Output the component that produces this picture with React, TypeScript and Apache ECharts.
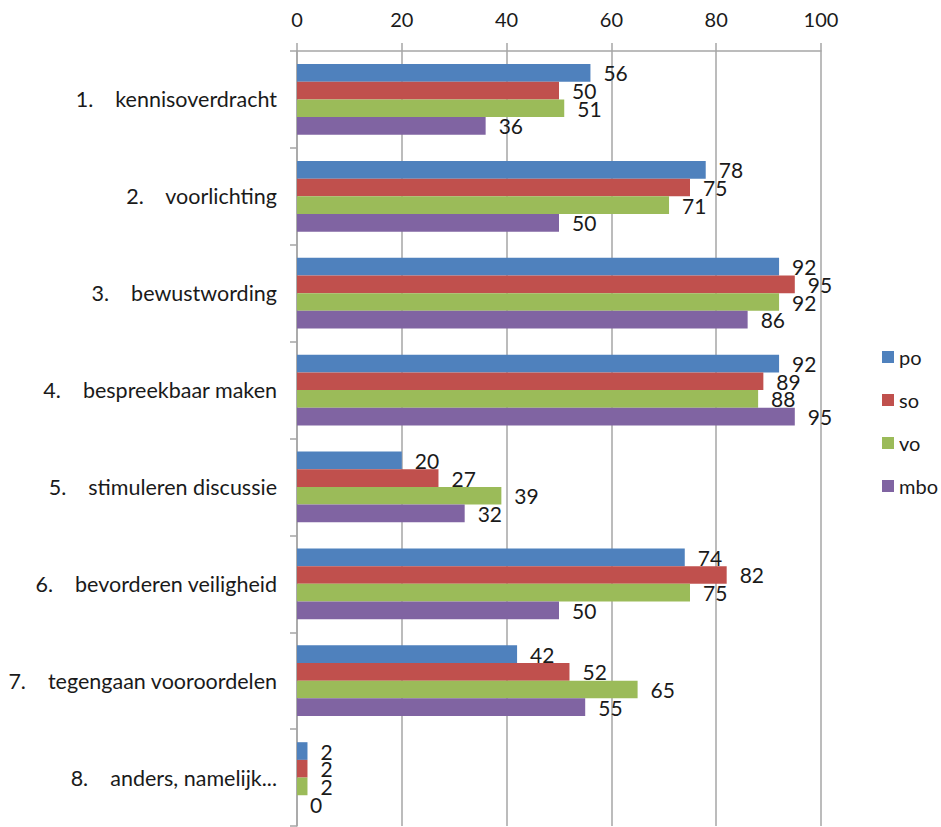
import React, { useEffect, useRef } from "react";
import * as echarts from "echarts";

const categories = [
  "1.    kennisoverdracht",
  "2.    voorlichting",
  "3.    bewustwording",
  "4.    bespreekbaar maken",
  "5.    stimuleren discussie",
  "6.    bevorderen veiligheid",
  "7.    tegengaan vooroordelen",
  "8.    anders, namelijk...",
];
const seriesNames = ["po", "so", "vo", "mbo"];
const po = [56, 78, 92, 92, 20, 74, 42, 2];
const so = [50, 75, 95, 89, 27, 82, 52, 2];
const vo = [51, 71, 92, 88, 39, 75, 65, 2];
const mbo = [36, 50, 86, 95, 32, 50, 55, 0];
const colors = ["#4F81BD", "#C0504D", "#9BBB59", "#8064A2"];
const axisTicks = [0, 20, 40, 60, 80, 100];

const FONT = "Lato";

export default function App() {
  const ref = useRef<HTMLDivElement>(null);
  useEffect(() => {
    if (!ref.current) return;
    const chart = echarts.init(ref.current, null, { renderer: "svg" });
    const values = [po, so, vo, mbo];
    chart.setOption({
      animation: false,
      textStyle: { fontFamily: FONT },
      grid: { left: 297, right: 120, top: 51, bottom: 1, containLabel: false },
      legend: {
        orient: "vertical",
        left: 877,
        top: 342,
        itemWidth: 12,
        itemHeight: 12,
        itemGap: 23,
        icon: "rect",
        textStyle: { fontFamily: FONT, fontSize: 20, color: "#1a1a1a" },
        data: seriesNames,
      },
      xAxis: {
        type: "value",
        position: "top",
        min: axisTicks[0],
        max: axisTicks[axisTicks.length - 1],
        interval: 20,
        axisLine: { show: true, lineStyle: { color: "#a6a6a6", width: 1.5 } },
        axisTick: { show: true, length: 8, lineStyle: { color: "#a6a6a6", width: 1.5 } },
        splitLine: { show: true, lineStyle: { color: "#a6a6a6", width: 1.5 } },
        axisLabel: { fontFamily: FONT, fontSize: 20, color: "#1a1a1a", margin: 22 },
      },
      yAxis: {
        type: "category",
        inverse: true,
        data: categories,
        axisLine: { show: true, lineStyle: { color: "#a6a6a6", width: 1.5 } },
        axisTick: { show: true, length: 7, lineStyle: { color: "#a6a6a6", width: 1.5 } },
        axisLabel: { fontFamily: FONT, fontSize: 21.5, color: "#1a1a1a", margin: 20 },
      },
      series: seriesNames.map((name, i) => ({
        name,
        type: "bar",
        data: values[i],
        barGap: "0%",
        barCategoryGap: "27%",
        itemStyle: { color: colors[i] },
        label: {
          show: true,
          position: "right",
          distance: 13,
          fontFamily: FONT,
          fontSize: 21,
          color: "#1a1a1a",
        },
      })),
    });
    return () => chart.dispose();
  }, []);
  return (
    <div
      ref={ref}
      style={{ position: "absolute", left: 0, top: 0, width: 941, height: 827 }}
    />
  );
}
